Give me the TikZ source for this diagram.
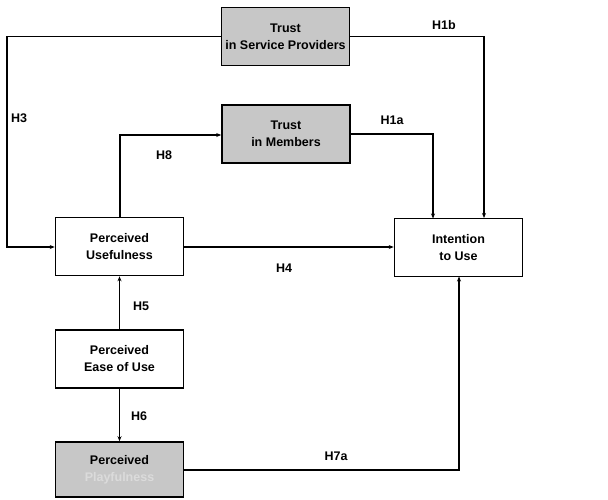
\documentclass[tikz,border=0pt]{standalone}
\usepackage{fontspec}
\setmainfont{Liberation Sans}
\usetikzlibrary{arrows.meta}
\definecolor{boxgray}{gray}{0.78}
\definecolor{lighttext}{gray}{0.86}
\begin{document}
\begin{tikzpicture}[x=1pt,y=-1pt,
  box/.style={draw=black,line width=1.6pt,minimum width=128pt,minimum height=58pt,align=center,font=\fontsize{12.5}{17}\selectfont\bfseries,inner sep=0pt},
  shaded/.style={box,fill=boxgray},
  conn/.style={line width=1.1pt,-{Stealth[length=5pt,width=4pt]}},
  lab/.style={font=\fontsize{12.5}{15}\selectfont\bfseries}]
\useasboundingbox (0,0) rectangle (608,499);
\node[shaded] (tsp) at (285.5,36.5) {Trust\\in Service Providers};
\node[shaded] (tm) at (286,134) {Trust\\in Members};
\node[box] (pu) at (119.5,246.5) {Perceived\\Usefulness};
\node[box] (iu) at (458.5,247.5) {Intention\\to Use};
\node[box] (peou) at (119.5,359) {Perceived\\Ease of Use};
\node[shaded,minimum height=55pt] (pp) at (119.5,469.5) {Perceived\\\textcolor{lighttext}{Playfulness}};
% connectors
\draw[conn] (tsp.east) -- (484,36.5) -- (484,218);
\draw[conn] (tsp.west) -- (7,36.5) -- (7,247) -- (pu.west |- 0,247);
\draw[conn] (120,217.5) -- (120,135) -- (tm.west |- 0,135);
\draw[conn] (tm.east |- 0,134) -- (433,134) -- (433,218.5);
\draw[conn] (pu.east |- 0,247) -- (iu.west |- 0,247);
\draw[conn] (peou.north) -- (pu.south);
\draw[conn] (peou.south) -- (pp.north);
\draw[conn] (pp.east |- 0,470) -- (459,470) -- (459,276.5);
% labels
\node[lab] (l1b) at (444,25) {H1b};
\node[lab] (l3) at (19,118) {H3};
\node[lab] (l8) at (164,155) {H8};
\node[lab] (l1a) at (392,120) {H1a};
\node[lab] (l4) at (284,268) {H4};
\node[lab] (l5) at (141,306) {H5};
\node[lab] (l6) at (139,416) {H6};
\node[lab] (l7a) at (336,456) {H7a};
\end{tikzpicture}
\end{document}
